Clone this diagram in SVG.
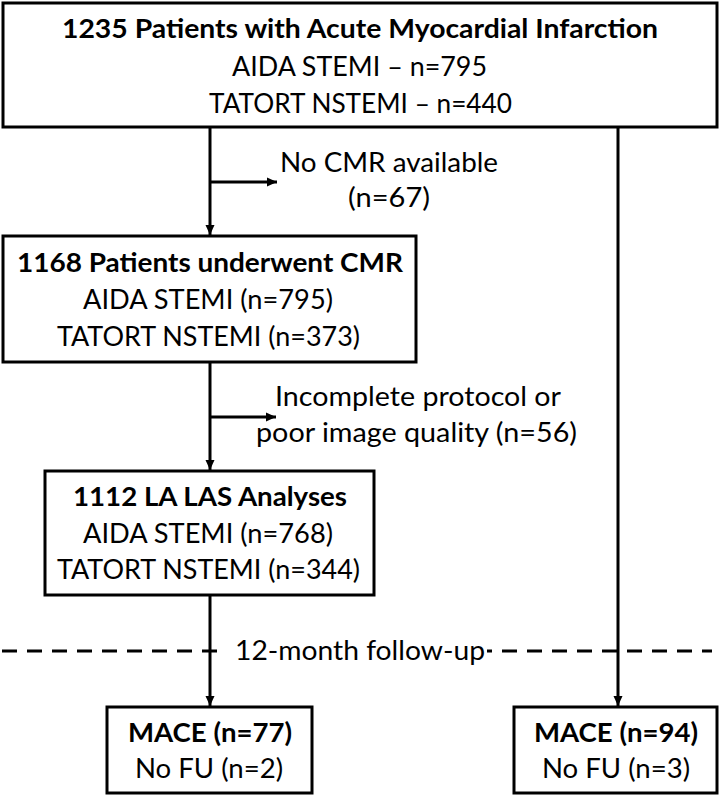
<svg xmlns="http://www.w3.org/2000/svg" width="720" height="797" viewBox="0 0 720 797">
<defs>
<style>
.box{fill:#fff;stroke:#000;stroke-width:3}
.ln{fill:none;stroke:#000;stroke-width:3}
.dash{fill:none;stroke:#000;stroke-width:3;stroke-dasharray:15 10}
text{font-family:Lato,"Liberation Sans",sans-serif;font-size:27px;fill:#000;text-anchor:middle}
.b{font-weight:bold}
</style>
<marker id="ah" markerUnits="userSpaceOnUse" markerWidth="11" markerHeight="10" refX="10" refY="5" orient="auto">
<path d="M0,0.5 L10,5 L0,9.5 z" fill="#000"/>
</marker>
</defs>
<rect width="720" height="797" fill="#fff"/>
<g id="connectors">
<path class="dash" d="M2,651 H712"/>
<rect x="224" y="636" width="263" height="28" fill="#fff"/>
<path class="ln" d="M210,127 V235" marker-end="url(#ah)"/>
<path class="ln" d="M210,182 H277" marker-end="url(#ah)"/>
<path class="ln" d="M210,362 V470" marker-end="url(#ah)"/>
<path class="ln" d="M210,417 H276" marker-end="url(#ah)"/>
<path class="ln" d="M210,595 V706" marker-end="url(#ah)"/>
<path class="ln" d="M618,127 V706" marker-end="url(#ah)"/>
</g>
<g id="label-nocmr">
<text x="389" y="172" textLength="218" lengthAdjust="spacingAndGlyphs">No CMR available</text>
<text x="389" y="207" textLength="82" lengthAdjust="spacingAndGlyphs">(n=67)</text>
</g>
<g id="label-incomplete">
<text x="418" y="406" textLength="286" lengthAdjust="spacingAndGlyphs">Incomplete protocol or</text>
<text x="416.5" y="442" textLength="321" lengthAdjust="spacingAndGlyphs">poor image quality (n=56)</text>
</g>
<g id="label-followup">
<text x="360" y="660" textLength="250" lengthAdjust="spacingAndGlyphs">12-month follow-up</text>
</g>
<g id="node-ami">
<rect class="box" x="3" y="3" width="714" height="124"/>
<text class="b" x="360" y="38" textLength="596" lengthAdjust="spacingAndGlyphs">1235 Patients with Acute Myocardial Infarction</text>
<text x="359.5" y="76" textLength="255" lengthAdjust="spacingAndGlyphs">AIDA STEMI – n=795</text>
<text x="360.5" y="113" textLength="303" lengthAdjust="spacingAndGlyphs">TATORT NSTEMI – n=440</text>
</g>
<g id="node-cmr">
<rect class="box" x="3" y="236" width="413" height="126"/>
<text class="b" x="210" y="272" textLength="386" lengthAdjust="spacingAndGlyphs">1168 Patients underwent CMR</text>
<text x="208" y="309" textLength="250" lengthAdjust="spacingAndGlyphs">AIDA STEMI (n=795)</text>
<text x="208.5" y="346" textLength="303" lengthAdjust="spacingAndGlyphs">TATORT NSTEMI (n=373)</text>
</g>
<g id="node-las">
<rect class="box" x="45" y="471" width="329" height="124"/>
<text class="b" x="210" y="506" textLength="274" lengthAdjust="spacingAndGlyphs">1112 LA LAS Analyses</text>
<text x="208" y="543" textLength="250" lengthAdjust="spacingAndGlyphs">AIDA STEMI (n=768)</text>
<text x="208.5" y="579" textLength="303" lengthAdjust="spacingAndGlyphs">TATORT NSTEMI (n=344)</text>
</g>
<g id="node-mace-left">
<rect class="box" x="107" y="707" width="205" height="86"/>
<text class="b" x="210" y="742" textLength="164" lengthAdjust="spacingAndGlyphs">MACE (n=77)</text>
<text x="209" y="778" textLength="148" lengthAdjust="spacingAndGlyphs">No FU (n=2)</text>
</g>
<g id="node-mace-right">
<rect class="box" x="514" y="707" width="203" height="86"/>
<text class="b" x="616" y="742" textLength="164" lengthAdjust="spacingAndGlyphs">MACE (n=94)</text>
<text x="616" y="778" textLength="148" lengthAdjust="spacingAndGlyphs">No FU (n=3)</text>
</g>
</svg>
